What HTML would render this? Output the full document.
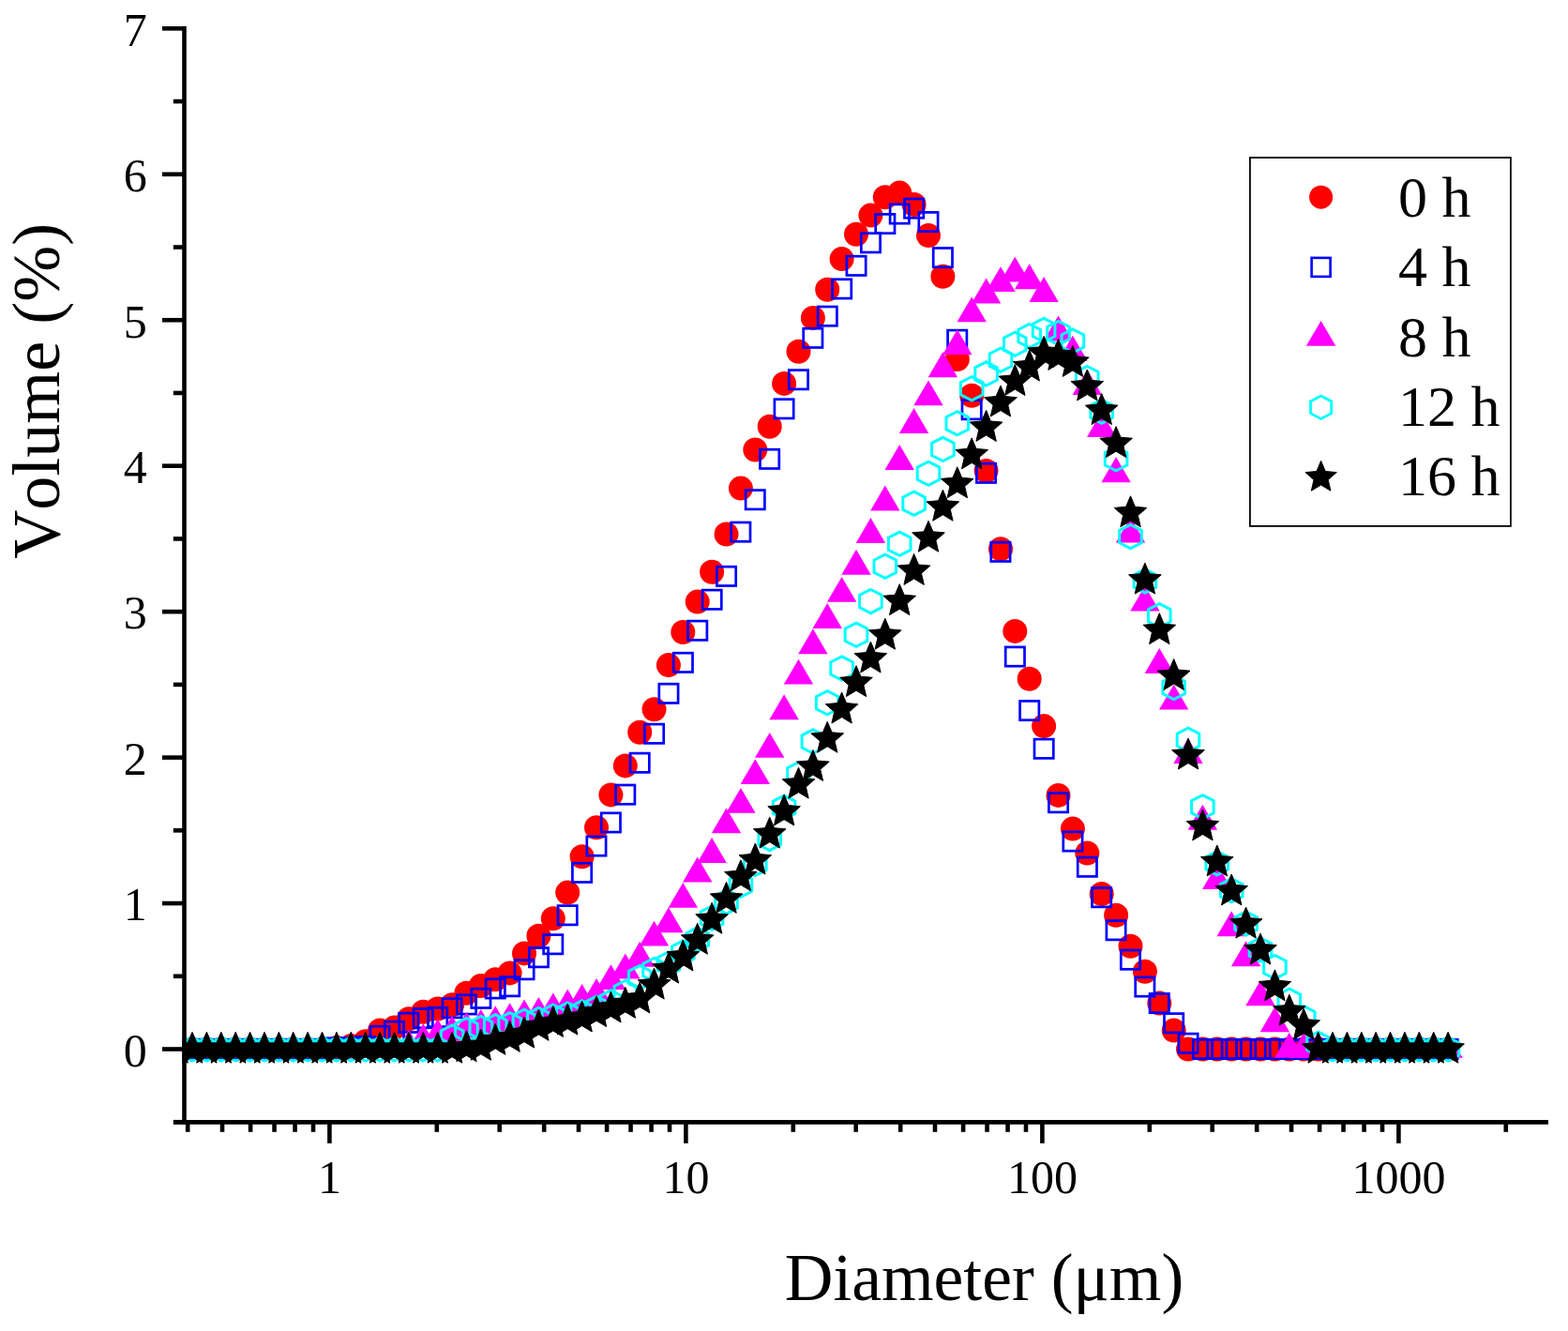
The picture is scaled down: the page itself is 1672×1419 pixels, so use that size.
<!DOCTYPE html>
<html><head><meta charset="utf-8"><style>
html,body{margin:0;padding:0;background:#fff;}
svg{display:block;}
text{font-kerning:none;font-feature-settings:"kern" 0;}
.tl{font-family:"Liberation Serif",serif;font-size:50px;fill:#000;}
.at{font-family:"Liberation Serif",serif;font-size:71.5px;fill:#000;}
.at2{font-family:"Liberation Serif",serif;font-size:72px;fill:#000;}
.lg{font-family:"Liberation Serif",serif;font-size:62px;fill:#000;}
</style></head><body>
<svg width="1672" height="1419" viewBox="0 0 1672 1419">
<rect width="1672" height="1419" fill="#fff"/>
<defs><clipPath id="pc"><rect x="194.5" y="0" width="1460" height="1194"/></clipPath></defs>
<g clip-path="url(#pc)">
<g fill="#ff0000">
<circle cx="189.6" cy="1118.5" r="13"/>
<circle cx="205" cy="1118.5" r="13"/>
<circle cx="220.4" cy="1118.5" r="13"/>
<circle cx="235.8" cy="1118.5" r="13"/>
<circle cx="251.2" cy="1118.5" r="13"/>
<circle cx="266.6" cy="1118.5" r="13"/>
<circle cx="282" cy="1118.5" r="13"/>
<circle cx="297.4" cy="1118.5" r="13"/>
<circle cx="312.7" cy="1118.5" r="13"/>
<circle cx="328.1" cy="1118.5" r="13"/>
<circle cx="343.5" cy="1118.5" r="13"/>
<circle cx="358.9" cy="1117.1" r="13"/>
<circle cx="374.3" cy="1114.9" r="13"/>
<circle cx="389.7" cy="1110.3" r="13"/>
<circle cx="405.1" cy="1098.4" r="13"/>
<circle cx="420.5" cy="1095.6" r="13"/>
<circle cx="435.9" cy="1086.2" r="13"/>
<circle cx="451.3" cy="1078.7" r="13"/>
<circle cx="466.7" cy="1075.5" r="13"/>
<circle cx="482.1" cy="1071.2" r="13"/>
<circle cx="497.4" cy="1058.8" r="13"/>
<circle cx="512.8" cy="1051" r="13"/>
<circle cx="528.2" cy="1044.3" r="13"/>
<circle cx="543.6" cy="1037.4" r="13"/>
<circle cx="559" cy="1016.4" r="13"/>
<circle cx="574.4" cy="997.8" r="13"/>
<circle cx="589.8" cy="979.2" r="13"/>
<circle cx="605.2" cy="951.6" r="13"/>
<circle cx="620.6" cy="913.3" r="13"/>
<circle cx="636" cy="882.3" r="13"/>
<circle cx="651.4" cy="847.4" r="13"/>
<circle cx="666.8" cy="816.4" r="13"/>
<circle cx="682.2" cy="780.8" r="13"/>
<circle cx="697.5" cy="756.3" r="13"/>
<circle cx="712.9" cy="709.1" r="13"/>
<circle cx="728.3" cy="674" r="13"/>
<circle cx="743.7" cy="641.6" r="13"/>
<circle cx="759.1" cy="609.8" r="13"/>
<circle cx="774.5" cy="569.5" r="13"/>
<circle cx="789.9" cy="520.6" r="13"/>
<circle cx="805.3" cy="479.5" r="13"/>
<circle cx="820.7" cy="454.7" r="13"/>
<circle cx="836.1" cy="408.9" r="13"/>
<circle cx="851.5" cy="374.7" r="13"/>
<circle cx="866.9" cy="338.9" r="13"/>
<circle cx="882.2" cy="308.7" r="13"/>
<circle cx="897.6" cy="276.1" r="13"/>
<circle cx="913" cy="249.8" r="13"/>
<circle cx="928.4" cy="229.6" r="13"/>
<circle cx="943.8" cy="210.2" r="13"/>
<circle cx="959.2" cy="205.6" r="13"/>
<circle cx="974.6" cy="218" r="13"/>
<circle cx="990" cy="251" r="13"/>
<circle cx="1005.4" cy="294.7" r="13"/>
<circle cx="1020.8" cy="383" r="13"/>
<circle cx="1036.2" cy="421.7" r="13"/>
<circle cx="1051.6" cy="502" r="13"/>
<circle cx="1067" cy="585.3" r="13"/>
<circle cx="1082.3" cy="672.9" r="13"/>
<circle cx="1097.7" cy="723.7" r="13"/>
<circle cx="1113.1" cy="774.1" r="13"/>
<circle cx="1128.5" cy="847.9" r="13"/>
<circle cx="1143.9" cy="883.6" r="13"/>
<circle cx="1159.3" cy="909.5" r="13"/>
<circle cx="1174.7" cy="953" r="13"/>
<circle cx="1190.1" cy="975.8" r="13"/>
<circle cx="1205.5" cy="1008.8" r="13"/>
<circle cx="1220.9" cy="1035.7" r="13"/>
<circle cx="1236.3" cy="1069.6" r="13"/>
<circle cx="1251.7" cy="1098.6" r="13"/>
<circle cx="1267" cy="1118.5" r="13"/>
<circle cx="1282.4" cy="1118.5" r="13"/>
<circle cx="1297.8" cy="1118.5" r="13"/>
<circle cx="1313.2" cy="1118.5" r="13"/>
<circle cx="1328.6" cy="1118.5" r="13"/>
<circle cx="1344" cy="1118.5" r="13"/>
<circle cx="1359.4" cy="1118.5" r="13"/>
<circle cx="1374.8" cy="1118.5" r="13"/>
<circle cx="1390.2" cy="1118.5" r="13"/>
<circle cx="1405.6" cy="1118.5" r="13"/>
<circle cx="1421" cy="1118.5" r="13"/>
<circle cx="1436.4" cy="1118.5" r="13"/>
<circle cx="1451.8" cy="1118.5" r="13"/>
<circle cx="1467.1" cy="1118.5" r="13"/>
<circle cx="1482.5" cy="1118.5" r="13"/>
<circle cx="1497.9" cy="1118.5" r="13"/>
<circle cx="1513.3" cy="1118.5" r="13"/>
<circle cx="1528.7" cy="1118.5" r="13"/>
<circle cx="1544.1" cy="1118.5" r="13"/>
</g>
<g fill="none" stroke="#0000ff" stroke-width="2.7">
<rect x="179.5" y="1108.3" width="20.3" height="20.3"/>
<rect x="194.8" y="1108.3" width="20.3" height="20.3"/>
<rect x="210.2" y="1108.3" width="20.3" height="20.3"/>
<rect x="225.6" y="1108.3" width="20.3" height="20.3"/>
<rect x="241" y="1108.3" width="20.3" height="20.3"/>
<rect x="256.4" y="1108.3" width="20.3" height="20.3"/>
<rect x="271.8" y="1108.3" width="20.3" height="20.3"/>
<rect x="287.2" y="1108.3" width="20.3" height="20.3"/>
<rect x="302.6" y="1108.3" width="20.3" height="20.3"/>
<rect x="318" y="1108.3" width="20.3" height="20.3"/>
<rect x="333.4" y="1108.3" width="20.3" height="20.3"/>
<rect x="348.8" y="1106.8" width="20.3" height="20.3"/>
<rect x="364.2" y="1106.8" width="20.3" height="20.3"/>
<rect x="379.6" y="1105.4" width="20.3" height="20.3"/>
<rect x="394.9" y="1094.2" width="20.3" height="20.3"/>
<rect x="410.3" y="1089.2" width="20.3" height="20.3"/>
<rect x="425.7" y="1080.2" width="20.3" height="20.3"/>
<rect x="441.1" y="1075.5" width="20.3" height="20.3"/>
<rect x="456.5" y="1074.3" width="20.3" height="20.3"/>
<rect x="471.9" y="1064.6" width="20.3" height="20.3"/>
<rect x="487.3" y="1060.8" width="20.3" height="20.3"/>
<rect x="502.7" y="1054.2" width="20.3" height="20.3"/>
<rect x="518.1" y="1043.8" width="20.3" height="20.3"/>
<rect x="533.5" y="1041.6" width="20.3" height="20.3"/>
<rect x="548.9" y="1023.6" width="20.3" height="20.3"/>
<rect x="564.3" y="1010.6" width="20.3" height="20.3"/>
<rect x="579.6" y="996.6" width="20.3" height="20.3"/>
<rect x="595" y="965.6" width="20.3" height="20.3"/>
<rect x="610.4" y="920.2" width="20.3" height="20.3"/>
<rect x="625.8" y="891.9" width="20.3" height="20.3"/>
<rect x="641.2" y="866.8" width="20.3" height="20.3"/>
<rect x="656.6" y="837" width="20.3" height="20.3"/>
<rect x="672" y="803.1" width="20.3" height="20.3"/>
<rect x="687.4" y="772.1" width="20.3" height="20.3"/>
<rect x="702.8" y="729.2" width="20.3" height="20.3"/>
<rect x="718.2" y="696.2" width="20.3" height="20.3"/>
<rect x="733.6" y="662.1" width="20.3" height="20.3"/>
<rect x="749" y="629.1" width="20.3" height="20.3"/>
<rect x="764.4" y="604.2" width="20.3" height="20.3"/>
<rect x="779.7" y="557" width="20.3" height="20.3"/>
<rect x="795.1" y="522.6" width="20.3" height="20.3"/>
<rect x="810.5" y="479.2" width="20.3" height="20.3"/>
<rect x="825.9" y="425.7" width="20.3" height="20.3"/>
<rect x="841.3" y="394.6" width="20.3" height="20.3"/>
<rect x="856.7" y="350.2" width="20.3" height="20.3"/>
<rect x="872.1" y="327" width="20.3" height="20.3"/>
<rect x="887.5" y="297.8" width="20.3" height="20.3"/>
<rect x="902.9" y="273.2" width="20.3" height="20.3"/>
<rect x="918.3" y="248.7" width="20.3" height="20.3"/>
<rect x="933.7" y="228.4" width="20.3" height="20.3"/>
<rect x="949.1" y="217.9" width="20.3" height="20.3"/>
<rect x="964.5" y="212" width="20.3" height="20.3"/>
<rect x="979.8" y="226.4" width="20.3" height="20.3"/>
<rect x="995.2" y="264.5" width="20.3" height="20.3"/>
<rect x="1010.6" y="352.1" width="20.3" height="20.3"/>
<rect x="1026" y="426.6" width="20.3" height="20.3"/>
<rect x="1041.4" y="494.2" width="20.3" height="20.3"/>
<rect x="1056.8" y="578.2" width="20.3" height="20.3"/>
<rect x="1072.2" y="689.9" width="20.3" height="20.3"/>
<rect x="1087.6" y="747.4" width="20.3" height="20.3"/>
<rect x="1103" y="788.1" width="20.3" height="20.3"/>
<rect x="1118.4" y="845.6" width="20.3" height="20.3"/>
<rect x="1133.8" y="886.9" width="20.3" height="20.3"/>
<rect x="1149.2" y="914.1" width="20.3" height="20.3"/>
<rect x="1164.5" y="946.6" width="20.3" height="20.3"/>
<rect x="1179.9" y="981.6" width="20.3" height="20.3"/>
<rect x="1195.3" y="1013" width="20.3" height="20.3"/>
<rect x="1210.7" y="1041.9" width="20.3" height="20.3"/>
<rect x="1226.1" y="1059.4" width="20.3" height="20.3"/>
<rect x="1241.5" y="1080.6" width="20.3" height="20.3"/>
<rect x="1256.9" y="1102.1" width="20.3" height="20.3"/>
<rect x="1272.3" y="1108.3" width="20.3" height="20.3"/>
<rect x="1287.7" y="1108.3" width="20.3" height="20.3"/>
<rect x="1303.1" y="1108.3" width="20.3" height="20.3"/>
<rect x="1318.5" y="1108.3" width="20.3" height="20.3"/>
<rect x="1333.9" y="1108.3" width="20.3" height="20.3"/>
<rect x="1349.2" y="1108.3" width="20.3" height="20.3"/>
<rect x="1364.6" y="1108.3" width="20.3" height="20.3"/>
<rect x="1380" y="1108.3" width="20.3" height="20.3"/>
<rect x="1395.4" y="1108.3" width="20.3" height="20.3"/>
<rect x="1410.8" y="1108.3" width="20.3" height="20.3"/>
<rect x="1426.2" y="1108.3" width="20.3" height="20.3"/>
<rect x="1441.6" y="1108.3" width="20.3" height="20.3"/>
<rect x="1457" y="1108.3" width="20.3" height="20.3"/>
<rect x="1472.4" y="1108.3" width="20.3" height="20.3"/>
<rect x="1487.8" y="1108.3" width="20.3" height="20.3"/>
<rect x="1503.2" y="1108.3" width="20.3" height="20.3"/>
<rect x="1518.6" y="1108.3" width="20.3" height="20.3"/>
<rect x="1534" y="1108.3" width="20.3" height="20.3"/>
</g>
<g fill="#ff00ff">
<polygon points="189.6,1100.8 205.3,1127.7 173.9,1127.7"/>
<polygon points="205,1100.8 220.7,1127.7 189.3,1127.7"/>
<polygon points="220.4,1100.8 236.1,1127.7 204.7,1127.7"/>
<polygon points="235.8,1100.8 251.5,1127.7 220.1,1127.7"/>
<polygon points="251.2,1100.8 266.9,1127.7 235.5,1127.7"/>
<polygon points="266.6,1100.8 282.3,1127.7 250.9,1127.7"/>
<polygon points="282,1100.8 297.7,1127.7 266.3,1127.7"/>
<polygon points="297.4,1100.8 313.1,1127.7 281.7,1127.7"/>
<polygon points="312.7,1100.8 328.4,1127.7 297,1127.7"/>
<polygon points="328.1,1100.8 343.8,1127.7 312.4,1127.7"/>
<polygon points="343.5,1100.8 359.2,1127.7 327.8,1127.7"/>
<polygon points="358.9,1100.8 374.6,1127.7 343.2,1127.7"/>
<polygon points="374.3,1100.8 390,1127.7 358.6,1127.7"/>
<polygon points="389.7,1100.8 405.4,1127.7 374,1127.7"/>
<polygon points="405.1,1100.8 420.8,1127.7 389.4,1127.7"/>
<polygon points="420.5,1100.8 436.2,1127.7 404.8,1127.7"/>
<polygon points="435.9,1097.8 451.6,1124.7 420.2,1124.7"/>
<polygon points="451.3,1091.3 467,1118.2 435.6,1118.2"/>
<polygon points="466.7,1086.3 482.4,1113.2 451,1113.2"/>
<polygon points="482.1,1082.8 497.8,1109.7 466.4,1109.7"/>
<polygon points="497.4,1079 513.1,1105.9 481.7,1105.9"/>
<polygon points="512.8,1076.1 528.5,1103 497.1,1103"/>
<polygon points="528.2,1072.3 543.9,1099.2 512.5,1099.2"/>
<polygon points="543.6,1069.2 559.3,1096.1 527.9,1096.1"/>
<polygon points="559,1065.4 574.7,1092.3 543.3,1092.3"/>
<polygon points="574.4,1063 590.1,1089.9 558.7,1089.9"/>
<polygon points="589.8,1058.4 605.5,1085.3 574.1,1085.3"/>
<polygon points="605.2,1054.5 620.9,1081.4 589.5,1081.4"/>
<polygon points="620.6,1049.1 636.3,1076 604.9,1076"/>
<polygon points="636,1042.9 651.7,1069.8 620.3,1069.8"/>
<polygon points="651.4,1028.2 667.1,1055.1 635.7,1055.1"/>
<polygon points="666.8,1016.5 682.5,1043.4 651.1,1043.4"/>
<polygon points="682.2,1003.8 697.9,1030.7 666.5,1030.7"/>
<polygon points="697.5,981.7 713.2,1008.6 681.8,1008.6"/>
<polygon points="712.9,967.3 728.6,994.2 697.2,994.2"/>
<polygon points="728.3,940.9 744,967.8 712.6,967.8"/>
<polygon points="743.7,913.5 759.4,940.4 728,940.4"/>
<polygon points="759.1,893.1 774.8,920 743.4,920"/>
<polygon points="774.5,861.4 790.2,888.3 758.8,888.3"/>
<polygon points="789.9,839.9 805.6,866.8 774.2,866.8"/>
<polygon points="805.3,809.2 821,836.1 789.6,836.1"/>
<polygon points="820.7,780.9 836.4,807.8 805,807.8"/>
<polygon points="836.1,740.3 851.8,767.2 820.4,767.2"/>
<polygon points="851.5,702.7 867.2,729.6 835.8,729.6"/>
<polygon points="866.9,670.3 882.6,697.2 851.2,697.2"/>
<polygon points="882.2,643 897.9,669.9 866.5,669.9"/>
<polygon points="897.6,614.9 913.3,641.8 881.9,641.8"/>
<polygon points="913,585.8 928.7,612.7 897.3,612.7"/>
<polygon points="928.4,552 944.1,578.9 912.7,578.9"/>
<polygon points="943.8,517.5 959.5,544.4 928.1,544.4"/>
<polygon points="959.2,474.1 974.9,501 943.5,501"/>
<polygon points="974.6,435.1 990.3,462 958.9,462"/>
<polygon points="990,405.4 1005.7,432.3 974.3,432.3"/>
<polygon points="1005.4,375.3 1021.1,402.2 989.7,402.2"/>
<polygon points="1020.8,351.3 1036.5,378.2 1005.1,378.2"/>
<polygon points="1036.2,316.4 1051.9,343.3 1020.5,343.3"/>
<polygon points="1051.6,296.6 1067.3,323.5 1035.9,323.5"/>
<polygon points="1067,284.2 1082.7,311.1 1051.3,311.1"/>
<polygon points="1082.3,273.7 1098,300.6 1066.6,300.6"/>
<polygon points="1097.7,281.3 1113.4,308.2 1082,308.2"/>
<polygon points="1113.1,295.1 1128.8,322 1097.4,322"/>
<polygon points="1128.5,336.5 1144.2,363.4 1112.8,363.4"/>
<polygon points="1143.9,357.8 1159.6,384.7 1128.2,384.7"/>
<polygon points="1159.3,394.1 1175,421 1143.6,421"/>
<polygon points="1174.7,439 1190.4,465.9 1159,465.9"/>
<polygon points="1190.1,487.3 1205.8,514.2 1174.4,514.2"/>
<polygon points="1205.5,551.5 1221.2,578.4 1189.8,578.4"/>
<polygon points="1220.9,624.7 1236.6,651.6 1205.2,651.6"/>
<polygon points="1236.3,691 1252,717.9 1220.6,717.9"/>
<polygon points="1251.7,729.7 1267.4,756.6 1236,756.6"/>
<polygon points="1267,787 1282.7,813.9 1251.3,813.9"/>
<polygon points="1282.4,857.8 1298.1,884.7 1266.7,884.7"/>
<polygon points="1297.8,921.1 1313.5,948 1282.1,948"/>
<polygon points="1313.2,971.3 1328.9,998.2 1297.5,998.2"/>
<polygon points="1328.6,1003.3 1344.3,1030.2 1312.9,1030.2"/>
<polygon points="1344,1045.3 1359.7,1072.2 1328.3,1072.2"/>
<polygon points="1359.4,1073.3 1375.1,1100.2 1343.7,1100.2"/>
<polygon points="1374.8,1100.8 1390.5,1127.7 1359.1,1127.7"/>
<polygon points="1390.2,1100.8 1405.9,1127.7 1374.5,1127.7"/>
<polygon points="1405.6,1100.8 1421.3,1127.7 1389.9,1127.7"/>
<polygon points="1421,1100.8 1436.7,1127.7 1405.3,1127.7"/>
<polygon points="1436.4,1100.8 1452.1,1127.7 1420.7,1127.7"/>
<polygon points="1451.8,1100.8 1467.5,1127.7 1436.1,1127.7"/>
<polygon points="1467.1,1100.8 1482.8,1127.7 1451.4,1127.7"/>
<polygon points="1482.5,1100.8 1498.2,1127.7 1466.8,1127.7"/>
<polygon points="1497.9,1100.8 1513.6,1127.7 1482.2,1127.7"/>
<polygon points="1513.3,1100.8 1529,1127.7 1497.6,1127.7"/>
<polygon points="1528.7,1100.8 1544.4,1127.7 1513,1127.7"/>
<polygon points="1544.1,1100.8 1559.8,1127.7 1528.4,1127.7"/>
</g>
<g fill="none" stroke="#00ffff" stroke-width="3">
<polygon points="189.6,1105.9 201.4,1111.9 201.4,1125.1 189.6,1131.1 177.8,1125.1 177.8,1111.9"/>
<polygon points="205,1105.9 216.8,1111.9 216.8,1125.1 205,1131.1 193.2,1125.1 193.2,1111.9"/>
<polygon points="220.4,1105.9 232.2,1111.9 232.2,1125.1 220.4,1131.1 208.6,1125.1 208.6,1111.9"/>
<polygon points="235.8,1105.9 247.6,1111.9 247.6,1125.1 235.8,1131.1 224,1125.1 224,1111.9"/>
<polygon points="251.2,1105.9 263,1111.9 263,1125.1 251.2,1131.1 239.4,1125.1 239.4,1111.9"/>
<polygon points="266.6,1105.9 278.4,1111.9 278.4,1125.1 266.6,1131.1 254.8,1125.1 254.8,1111.9"/>
<polygon points="282,1105.9 293.8,1111.9 293.8,1125.1 282,1131.1 270.2,1125.1 270.2,1111.9"/>
<polygon points="297.4,1105.9 309.2,1111.9 309.2,1125.1 297.4,1131.1 285.6,1125.1 285.6,1111.9"/>
<polygon points="312.7,1105.9 324.5,1111.9 324.5,1125.1 312.7,1131.1 300.9,1125.1 300.9,1111.9"/>
<polygon points="328.1,1105.9 339.9,1111.9 339.9,1125.1 328.1,1131.1 316.3,1125.1 316.3,1111.9"/>
<polygon points="343.5,1105.9 355.3,1111.9 355.3,1125.1 343.5,1131.1 331.7,1125.1 331.7,1111.9"/>
<polygon points="358.9,1105.9 370.7,1111.9 370.7,1125.1 358.9,1131.1 347.1,1125.1 347.1,1111.9"/>
<polygon points="374.3,1105.9 386.1,1111.9 386.1,1125.1 374.3,1131.1 362.5,1125.1 362.5,1111.9"/>
<polygon points="389.7,1105.9 401.5,1111.9 401.5,1125.1 389.7,1131.1 377.9,1125.1 377.9,1111.9"/>
<polygon points="405.1,1105.9 416.9,1111.9 416.9,1125.1 405.1,1131.1 393.3,1125.1 393.3,1111.9"/>
<polygon points="420.5,1105.9 432.3,1111.9 432.3,1125.1 420.5,1131.1 408.7,1125.1 408.7,1111.9"/>
<polygon points="435.9,1105.9 447.7,1111.9 447.7,1125.1 435.9,1131.1 424.1,1125.1 424.1,1111.9"/>
<polygon points="451.3,1105.9 463.1,1111.9 463.1,1125.1 451.3,1131.1 439.5,1125.1 439.5,1111.9"/>
<polygon points="466.7,1105.9 478.5,1111.9 478.5,1125.1 466.7,1131.1 454.9,1125.1 454.9,1111.9"/>
<polygon points="482.1,1092.9 493.9,1098.9 493.9,1112.1 482.1,1118.1 470.3,1112.1 470.3,1098.9"/>
<polygon points="497.4,1085.4 509.2,1091.4 509.2,1104.6 497.4,1110.6 485.6,1104.6 485.6,1091.4"/>
<polygon points="512.8,1083.4 524.6,1089.4 524.6,1102.6 512.8,1108.6 501,1102.6 501,1089.4"/>
<polygon points="528.2,1081.7 540,1087.7 540,1100.9 528.2,1106.9 516.4,1100.9 516.4,1087.7"/>
<polygon points="543.6,1079.7 555.4,1085.7 555.4,1098.9 543.6,1104.9 531.8,1098.9 531.8,1085.7"/>
<polygon points="559,1076.2 570.8,1082.2 570.8,1095.4 559,1101.4 547.2,1095.4 547.2,1082.2"/>
<polygon points="574.4,1074.4 586.2,1080.4 586.2,1093.6 574.4,1099.6 562.6,1093.6 562.6,1080.4"/>
<polygon points="589.8,1071 601.6,1077 601.6,1090.2 589.8,1096.2 578,1090.2 578,1077"/>
<polygon points="605.2,1068.9 617,1074.9 617,1088.1 605.2,1094.1 593.4,1088.1 593.4,1074.9"/>
<polygon points="620.6,1066.8 632.4,1072.8 632.4,1086 620.6,1092 608.8,1086 608.8,1072.8"/>
<polygon points="636,1062.1 647.8,1068.1 647.8,1081.3 636,1087.3 624.2,1081.3 624.2,1068.1"/>
<polygon points="651.4,1055.8 663.2,1061.8 663.2,1075 651.4,1081 639.6,1075 639.6,1061.8"/>
<polygon points="666.8,1045.4 678.6,1051.4 678.6,1064.6 666.8,1070.6 655,1064.6 655,1051.4"/>
<polygon points="682.2,1029.4 694,1035.4 694,1048.6 682.2,1054.6 670.4,1048.6 670.4,1035.4"/>
<polygon points="697.5,1021.4 709.3,1027.4 709.3,1040.6 697.5,1046.6 685.7,1040.6 685.7,1027.4"/>
<polygon points="712.9,1015 724.7,1021 724.7,1034.2 712.9,1040.2 701.1,1034.2 701.1,1021"/>
<polygon points="728.3,1002.9 740.1,1008.9 740.1,1022.1 728.3,1028.1 716.5,1022.1 716.5,1008.9"/>
<polygon points="743.7,988.8 755.5,994.8 755.5,1008 743.7,1014 731.9,1008 731.9,994.8"/>
<polygon points="759.1,966 770.9,972 770.9,985.2 759.1,991.2 747.3,985.2 747.3,972"/>
<polygon points="774.5,949 786.3,955 786.3,968.2 774.5,974.2 762.7,968.2 762.7,955"/>
<polygon points="789.9,931.2 801.7,937.2 801.7,950.4 789.9,956.4 778.1,950.4 778.1,937.2"/>
<polygon points="805.3,908.4 817.1,914.4 817.1,927.6 805.3,933.6 793.5,927.6 793.5,914.4"/>
<polygon points="820.7,881.5 832.5,887.5 832.5,900.7 820.7,906.7 808.9,900.7 808.9,887.5"/>
<polygon points="836.1,848.1 847.9,854.1 847.9,867.3 836.1,873.3 824.3,867.3 824.3,854.1"/>
<polygon points="851.5,812.7 863.3,818.7 863.3,831.9 851.5,837.9 839.7,831.9 839.7,818.7"/>
<polygon points="866.9,777.8 878.7,783.8 878.7,797 866.9,803 855.1,797 855.1,783.8"/>
<polygon points="882.2,736.6 894,742.6 894,755.8 882.2,761.8 870.4,755.8 870.4,742.6"/>
<polygon points="897.6,699.9 909.4,705.9 909.4,719.1 897.6,725.1 885.8,719.1 885.8,705.9"/>
<polygon points="913,664.2 924.8,670.2 924.8,683.4 913,689.4 901.2,683.4 901.2,670.2"/>
<polygon points="928.4,628.5 940.2,634.5 940.2,647.7 928.4,653.7 916.6,647.7 916.6,634.5"/>
<polygon points="943.8,591.2 955.6,597.2 955.6,610.4 943.8,616.4 932,610.4 932,597.2"/>
<polygon points="959.2,567.2 971,573.2 971,586.4 959.2,592.4 947.4,586.4 947.4,573.2"/>
<polygon points="974.6,524.1 986.4,530.1 986.4,543.3 974.6,549.3 962.8,543.3 962.8,530.1"/>
<polygon points="990,492.1 1001.8,498.1 1001.8,511.3 990,517.3 978.2,511.3 978.2,498.1"/>
<polygon points="1005.4,466.3 1017.2,472.3 1017.2,485.5 1005.4,491.5 993.6,485.5 993.6,472.3"/>
<polygon points="1020.8,438.7 1032.6,444.7 1032.6,457.9 1020.8,463.9 1009,457.9 1009,444.7"/>
<polygon points="1036.2,401.7 1048,407.7 1048,420.9 1036.2,426.9 1024.4,420.9 1024.4,407.7"/>
<polygon points="1051.6,385.8 1063.4,391.8 1063.4,405 1051.6,411 1039.8,405 1039.8,391.8"/>
<polygon points="1067,371.1 1078.8,377.1 1078.8,390.3 1067,396.3 1055.2,390.3 1055.2,377.1"/>
<polygon points="1082.3,354.1 1094.1,360.1 1094.1,373.3 1082.3,379.3 1070.5,373.3 1070.5,360.1"/>
<polygon points="1097.7,345.5 1109.5,351.5 1109.5,364.7 1097.7,370.7 1085.9,364.7 1085.9,351.5"/>
<polygon points="1113.1,339.3 1124.9,345.3 1124.9,358.5 1113.1,364.5 1101.3,358.5 1101.3,345.3"/>
<polygon points="1128.5,342.4 1140.3,348.4 1140.3,361.6 1128.5,367.6 1116.7,361.6 1116.7,348.4"/>
<polygon points="1143.9,351 1155.7,357 1155.7,370.2 1143.9,376.2 1132.1,370.2 1132.1,357"/>
<polygon points="1159.3,390.5 1171.1,396.5 1171.1,409.7 1159.3,415.7 1147.5,409.7 1147.5,396.5"/>
<polygon points="1174.7,426.2 1186.5,432.2 1186.5,445.4 1174.7,451.4 1162.9,445.4 1162.9,432.2"/>
<polygon points="1190.1,476.7 1201.9,482.7 1201.9,495.9 1190.1,501.9 1178.3,495.9 1178.3,482.7"/>
<polygon points="1205.5,559.5 1217.3,565.5 1217.3,578.7 1205.5,584.7 1193.7,578.7 1193.7,565.5"/>
<polygon points="1220.9,606.8 1232.7,612.8 1232.7,626 1220.9,632 1209.1,626 1209.1,612.8"/>
<polygon points="1236.3,643.7 1248.1,649.7 1248.1,662.9 1236.3,668.9 1224.5,662.9 1224.5,649.7"/>
<polygon points="1251.7,720.4 1263.5,726.4 1263.5,739.6 1251.7,745.6 1239.9,739.6 1239.9,726.4"/>
<polygon points="1267,776.1 1278.8,782.1 1278.8,795.3 1267,801.3 1255.2,795.3 1255.2,782.1"/>
<polygon points="1282.4,847.7 1294.2,853.7 1294.2,866.9 1282.4,872.9 1270.6,866.9 1270.6,853.7"/>
<polygon points="1297.8,907.6 1309.6,913.6 1309.6,926.8 1297.8,932.8 1286,926.8 1286,913.6"/>
<polygon points="1313.2,936.7 1325,942.7 1325,955.9 1313.2,961.9 1301.4,955.9 1301.4,942.7"/>
<polygon points="1328.6,971.9 1340.4,977.9 1340.4,991.1 1328.6,997.1 1316.8,991.1 1316.8,977.9"/>
<polygon points="1344,999.8 1355.8,1005.8 1355.8,1019 1344,1025 1332.2,1019 1332.2,1005.8"/>
<polygon points="1359.4,1018.4 1371.2,1024.4 1371.2,1037.6 1359.4,1043.6 1347.6,1037.6 1347.6,1024.4"/>
<polygon points="1374.8,1054.1 1386.6,1060.1 1386.6,1073.3 1374.8,1079.3 1363,1073.3 1363,1060.1"/>
<polygon points="1390.2,1072.7 1402,1078.7 1402,1091.9 1390.2,1097.9 1378.4,1091.9 1378.4,1078.7"/>
<polygon points="1405.6,1100.1 1417.4,1106.1 1417.4,1119.3 1405.6,1125.3 1393.8,1119.3 1393.8,1106.1"/>
<polygon points="1421,1105.9 1432.8,1111.9 1432.8,1125.1 1421,1131.1 1409.2,1125.1 1409.2,1111.9"/>
<polygon points="1436.4,1105.9 1448.2,1111.9 1448.2,1125.1 1436.4,1131.1 1424.6,1125.1 1424.6,1111.9"/>
<polygon points="1451.8,1105.9 1463.6,1111.9 1463.6,1125.1 1451.8,1131.1 1440,1125.1 1440,1111.9"/>
<polygon points="1467.1,1105.9 1478.9,1111.9 1478.9,1125.1 1467.1,1131.1 1455.3,1125.1 1455.3,1111.9"/>
<polygon points="1482.5,1105.9 1494.3,1111.9 1494.3,1125.1 1482.5,1131.1 1470.7,1125.1 1470.7,1111.9"/>
<polygon points="1497.9,1105.9 1509.7,1111.9 1509.7,1125.1 1497.9,1131.1 1486.1,1125.1 1486.1,1111.9"/>
<polygon points="1513.3,1105.9 1525.1,1111.9 1525.1,1125.1 1513.3,1131.1 1501.5,1125.1 1501.5,1111.9"/>
<polygon points="1528.7,1105.9 1540.5,1111.9 1540.5,1125.1 1528.7,1131.1 1516.9,1125.1 1516.9,1111.9"/>
<polygon points="1544.1,1105.9 1555.9,1111.9 1555.9,1125.1 1544.1,1131.1 1532.3,1125.1 1532.3,1111.9"/>
</g>
<g fill="#000" stroke="#000" stroke-width="1.0" stroke-linejoin="round">
<polygon points="189.6,1100.3 194.5,1111.8 206.9,1112.9 197.5,1121.1 200.3,1133.2 189.6,1126.8 178.9,1133.2 181.7,1121.1 172.3,1112.9 184.7,1111.8"/>
<polygon points="205,1100.3 209.9,1111.8 222.3,1112.9 212.9,1121.1 215.7,1133.2 205,1126.8 194.3,1133.2 197.1,1121.1 187.7,1112.9 200.1,1111.8"/>
<polygon points="220.4,1100.3 225.3,1111.8 237.7,1112.9 228.3,1121.1 231.1,1133.2 220.4,1126.8 209.7,1133.2 212.5,1121.1 203.1,1112.9 215.5,1111.8"/>
<polygon points="235.8,1100.3 240.7,1111.8 253.1,1112.9 243.7,1121.1 246.5,1133.2 235.8,1126.8 225.1,1133.2 227.9,1121.1 218.5,1112.9 230.9,1111.8"/>
<polygon points="251.2,1100.3 256.1,1111.8 268.5,1112.9 259.1,1121.1 261.9,1133.2 251.2,1126.8 240.5,1133.2 243.3,1121.1 233.9,1112.9 246.3,1111.8"/>
<polygon points="266.6,1100.3 271.4,1111.8 283.9,1112.9 274.5,1121.1 277.3,1133.2 266.6,1126.8 255.9,1133.2 258.7,1121.1 249.3,1112.9 261.7,1111.8"/>
<polygon points="282,1100.3 286.8,1111.8 299.3,1112.9 289.9,1121.1 292.7,1133.2 282,1126.8 271.3,1133.2 274.1,1121.1 264.7,1112.9 277.1,1111.8"/>
<polygon points="297.4,1100.3 302.2,1111.8 314.7,1112.9 305.2,1121.1 308,1133.2 297.4,1126.8 286.7,1133.2 289.5,1121.1 280,1112.9 292.5,1111.8"/>
<polygon points="312.7,1100.3 317.6,1111.8 330.1,1112.9 320.6,1121.1 323.4,1133.2 312.7,1126.8 302,1133.2 304.9,1121.1 295.4,1112.9 307.9,1111.8"/>
<polygon points="328.1,1100.3 333,1111.8 345.4,1112.9 336,1121.1 338.8,1133.2 328.1,1126.8 317.4,1133.2 320.2,1121.1 310.8,1112.9 323.3,1111.8"/>
<polygon points="343.5,1100.3 348.4,1111.8 360.8,1112.9 351.4,1121.1 354.2,1133.2 343.5,1126.8 332.8,1133.2 335.6,1121.1 326.2,1112.9 338.6,1111.8"/>
<polygon points="358.9,1100.3 363.8,1111.8 376.2,1112.9 366.8,1121.1 369.6,1133.2 358.9,1126.8 348.2,1133.2 351,1121.1 341.6,1112.9 354,1111.8"/>
<polygon points="374.3,1100.3 379.2,1111.8 391.6,1112.9 382.2,1121.1 385,1133.2 374.3,1126.8 363.6,1133.2 366.4,1121.1 357,1112.9 369.4,1111.8"/>
<polygon points="389.7,1100.3 394.6,1111.8 407,1112.9 397.6,1121.1 400.4,1133.2 389.7,1126.8 379,1133.2 381.8,1121.1 372.4,1112.9 384.8,1111.8"/>
<polygon points="405.1,1100.3 410,1111.8 422.4,1112.9 413,1121.1 415.8,1133.2 405.1,1126.8 394.4,1133.2 397.2,1121.1 387.8,1112.9 400.2,1111.8"/>
<polygon points="420.5,1100.3 425.4,1111.8 437.8,1112.9 428.4,1121.1 431.2,1133.2 420.5,1126.8 409.8,1133.2 412.6,1121.1 403.2,1112.9 415.6,1111.8"/>
<polygon points="435.9,1100.3 440.8,1111.8 453.2,1112.9 443.8,1121.1 446.6,1133.2 435.9,1126.8 425.2,1133.2 428,1121.1 418.6,1112.9 431,1111.8"/>
<polygon points="451.3,1100.3 456.2,1111.8 468.6,1112.9 459.2,1121.1 462,1133.2 451.3,1126.8 440.6,1133.2 443.4,1121.1 434,1112.9 446.4,1111.8"/>
<polygon points="466.7,1100.3 471.5,1111.8 484,1112.9 474.6,1121.1 477.4,1133.2 466.7,1126.8 456,1133.2 458.8,1121.1 449.4,1112.9 461.8,1111.8"/>
<polygon points="482.1,1100.3 486.9,1111.8 499.4,1112.9 489.9,1121.1 492.8,1133.2 482.1,1126.8 471.4,1133.2 474.2,1121.1 464.7,1112.9 477.2,1111.8"/>
<polygon points="497.4,1098.8 502.3,1110.3 514.8,1111.4 505.3,1119.6 508.1,1131.7 497.4,1125.3 486.8,1131.7 489.6,1119.6 480.1,1111.4 492.6,1110.3"/>
<polygon points="512.8,1097.3 517.7,1108.8 530.1,1109.9 520.7,1118.1 523.5,1130.2 512.8,1123.8 502.1,1130.2 504.9,1118.1 495.5,1109.9 508,1108.8"/>
<polygon points="528.2,1091.4 533.1,1102.9 545.5,1104 536.1,1112.2 538.9,1124.3 528.2,1117.9 517.5,1124.3 520.3,1112.2 510.9,1104 523.4,1102.9"/>
<polygon points="543.6,1088.4 548.5,1099.9 560.9,1101 551.5,1109.2 554.3,1121.3 543.6,1114.9 532.9,1121.3 535.7,1109.2 526.3,1101 538.7,1099.9"/>
<polygon points="559,1084.2 563.9,1095.7 576.3,1096.8 566.9,1105 569.7,1117.1 559,1110.7 548.3,1117.1 551.1,1105 541.7,1096.8 554.1,1095.7"/>
<polygon points="574.4,1076.4 579.3,1087.9 591.7,1089 582.3,1097.2 585.1,1109.3 574.4,1102.9 563.7,1109.3 566.5,1097.2 557.1,1089 569.5,1087.9"/>
<polygon points="589.8,1072.5 594.7,1084 607.1,1085.1 597.7,1093.3 600.5,1105.4 589.8,1099 579.1,1105.4 581.9,1093.3 572.5,1085.1 584.9,1084"/>
<polygon points="605.2,1070.2 610.1,1081.7 622.5,1082.8 613.1,1091 615.9,1103.1 605.2,1096.7 594.5,1103.1 597.3,1091 587.9,1082.8 600.3,1081.7"/>
<polygon points="620.6,1067.1 625.5,1078.6 637.9,1079.7 628.5,1087.9 631.3,1100 620.6,1093.6 609.9,1100 612.7,1087.9 603.3,1079.7 615.7,1078.6"/>
<polygon points="636,1061.7 640.9,1073.2 653.3,1074.3 643.9,1082.5 646.7,1094.6 636,1088.2 625.3,1094.6 628.1,1082.5 618.7,1074.3 631.1,1073.2"/>
<polygon points="651.4,1057 656.2,1068.5 668.7,1069.6 659.3,1077.8 662.1,1089.9 651.4,1083.5 640.7,1089.9 643.5,1077.8 634.1,1069.6 646.5,1068.5"/>
<polygon points="666.8,1052.4 671.6,1063.9 684.1,1065 674.7,1073.2 677.5,1085.3 666.8,1078.9 656.1,1085.3 658.9,1073.2 649.5,1065 661.9,1063.9"/>
<polygon points="682.2,1047 687,1058.5 699.5,1059.6 690,1067.8 692.8,1079.9 682.2,1073.5 671.5,1079.9 674.3,1067.8 664.8,1059.6 677.3,1058.5"/>
<polygon points="697.5,1032.2 702.4,1043.7 714.9,1044.8 705.4,1053 708.2,1065.1 697.5,1058.7 686.8,1065.1 689.7,1053 680.2,1044.8 692.7,1043.7"/>
<polygon points="712.9,1015.2 717.8,1026.7 730.2,1027.8 720.8,1036 723.6,1048.1 712.9,1041.7 702.2,1048.1 705,1036 695.6,1027.8 708.1,1026.7"/>
<polygon points="728.3,1002.1 733.2,1013.6 745.6,1014.7 736.2,1022.9 739,1035 728.3,1028.6 717.6,1035 720.4,1022.9 711,1014.7 723.4,1013.6"/>
<polygon points="743.7,984.3 748.6,995.8 761,996.9 751.6,1005.1 754.4,1017.2 743.7,1010.8 733,1017.2 735.8,1005.1 726.4,996.9 738.8,995.8"/>
<polygon points="759.1,962.3 764,973.8 776.4,974.9 767,983.1 769.8,995.2 759.1,988.8 748.4,995.2 751.2,983.1 741.8,974.9 754.2,973.8"/>
<polygon points="774.5,940.4 779.4,951.9 791.8,953 782.4,961.2 785.2,973.3 774.5,966.9 763.8,973.3 766.6,961.2 757.2,953 769.6,951.9"/>
<polygon points="789.9,916.9 794.8,928.4 807.2,929.5 797.8,937.7 800.6,949.8 789.9,943.4 779.2,949.8 782,937.7 772.6,929.5 785,928.4"/>
<polygon points="805.3,899.1 810.2,910.6 822.6,911.7 813.2,919.9 816,932 805.3,925.6 794.6,932 797.4,919.9 788,911.7 800.4,910.6"/>
<polygon points="820.7,871.2 825.6,882.7 838,883.8 828.6,892 831.4,904.1 820.7,897.7 810,904.1 812.8,892 803.4,883.8 815.8,882.7"/>
<polygon points="836.1,847.1 841,858.6 853.4,859.7 844,867.9 846.8,880 836.1,873.6 825.4,880 828.2,867.9 818.8,859.7 831.2,858.6"/>
<polygon points="851.5,818.2 856.3,829.7 868.8,830.8 859.4,839 862.2,851.1 851.5,844.7 840.8,851.1 843.6,839 834.2,830.8 846.6,829.7"/>
<polygon points="866.9,799.5 871.7,811 884.2,812.1 874.7,820.3 877.6,832.4 866.9,826 856.2,832.4 859,820.3 849.5,812.1 862,811"/>
<polygon points="882.2,769.3 887.1,780.8 899.6,781.9 890.1,790.1 892.9,802.2 882.2,795.8 871.6,802.2 874.4,790.1 864.9,781.9 877.4,780.8"/>
<polygon points="897.6,738.1 902.5,749.6 914.9,750.7 905.5,758.9 908.3,771 897.6,764.6 886.9,771 889.7,758.9 880.3,750.7 892.8,749.6"/>
<polygon points="913,709.7 917.9,721.2 930.3,722.3 920.9,730.5 923.7,742.6 913,736.2 902.3,742.6 905.1,730.5 895.7,722.3 908.2,721.2"/>
<polygon points="928.4,684.1 933.3,695.6 945.7,696.7 936.3,704.9 939.1,717 928.4,710.6 917.7,717 920.5,704.9 911.1,696.7 923.5,695.6"/>
<polygon points="943.8,659.3 948.7,670.8 961.1,671.9 951.7,680.1 954.5,692.2 943.8,685.8 933.1,692.2 935.9,680.1 926.5,671.9 938.9,670.8"/>
<polygon points="959.2,622.7 964.1,634.2 976.5,635.3 967.1,643.5 969.9,655.6 959.2,649.2 948.5,655.6 951.3,643.5 941.9,635.3 954.3,634.2"/>
<polygon points="974.6,590.5 979.5,602 991.9,603.1 982.5,611.3 985.3,623.4 974.6,617 963.9,623.4 966.7,611.3 957.3,603.1 969.7,602"/>
<polygon points="990,555.3 994.9,566.8 1007.3,567.9 997.9,576.1 1000.7,588.2 990,581.8 979.3,588.2 982.1,576.1 972.7,567.9 985.1,566.8"/>
<polygon points="1005.4,522.3 1010.3,533.8 1022.7,534.9 1013.3,543.1 1016.1,555.2 1005.4,548.8 994.7,555.2 997.5,543.1 988.1,534.9 1000.5,533.8"/>
<polygon points="1020.8,497.8 1025.7,509.3 1038.1,510.4 1028.7,518.6 1031.5,530.7 1020.8,524.3 1010.1,530.7 1012.9,518.6 1003.5,510.4 1015.9,509.3"/>
<polygon points="1036.2,466.9 1041,478.4 1053.5,479.5 1044.1,487.7 1046.9,499.8 1036.2,493.4 1025.5,499.8 1028.3,487.7 1018.9,479.5 1031.3,478.4"/>
<polygon points="1051.6,437.5 1056.4,449 1068.9,450.1 1059.5,458.3 1062.3,470.4 1051.6,464 1040.9,470.4 1043.7,458.3 1034.3,450.1 1046.7,449"/>
<polygon points="1067,411.1 1071.8,422.6 1084.3,423.7 1074.8,431.9 1077.6,444 1067,437.6 1056.3,444 1059.1,431.9 1049.6,423.7 1062.1,422.6"/>
<polygon points="1082.3,388.6 1087.2,400.1 1099.7,401.2 1090.2,409.4 1093,421.5 1082.3,415.1 1071.6,421.5 1074.5,409.4 1065,401.2 1077.5,400.1"/>
<polygon points="1097.7,373.1 1102.6,384.6 1115,385.7 1105.6,393.9 1108.4,406 1097.7,399.6 1087,406 1089.8,393.9 1080.4,385.7 1092.9,384.6"/>
<polygon points="1113.1,358.4 1118,369.9 1130.4,371 1121,379.2 1123.8,391.3 1113.1,384.9 1102.4,391.3 1105.2,379.2 1095.8,371 1108.2,369.9"/>
<polygon points="1128.5,361.5 1133.4,373 1145.8,374.1 1136.4,382.3 1139.2,394.4 1128.5,388 1117.8,394.4 1120.6,382.3 1111.2,374.1 1123.6,373"/>
<polygon points="1143.9,368.5 1148.8,380 1161.2,381.1 1151.8,389.3 1154.6,401.4 1143.9,395 1133.2,401.4 1136,389.3 1126.6,381.1 1139,380"/>
<polygon points="1159.3,394 1164.2,405.5 1176.6,406.6 1167.2,414.8 1170,426.9 1159.3,420.5 1148.6,426.9 1151.4,414.8 1142,406.6 1154.4,405.5"/>
<polygon points="1174.7,419.6 1179.6,431.1 1192,432.2 1182.6,440.4 1185.4,452.5 1174.7,446.1 1164,452.5 1166.8,440.4 1157.4,432.2 1169.8,431.1"/>
<polygon points="1190.1,454.7 1195,466.2 1207.4,467.3 1198,475.5 1200.8,487.6 1190.1,481.2 1179.4,487.6 1182.2,475.5 1172.8,467.3 1185.2,466.2"/>
<polygon points="1205.5,528.8 1210.4,540.3 1222.8,541.4 1213.4,549.6 1216.2,561.7 1205.5,555.3 1194.8,561.7 1197.6,549.6 1188.2,541.4 1200.6,540.3"/>
<polygon points="1220.9,600.2 1225.8,611.7 1238.2,612.8 1228.8,621 1231.6,633.1 1220.9,626.7 1210.2,633.1 1213,621 1203.6,612.8 1216,611.7"/>
<polygon points="1236.3,653.7 1241.1,665.2 1253.6,666.3 1244.2,674.5 1247,686.6 1236.3,680.2 1225.6,686.6 1228.4,674.5 1219,666.3 1231.4,665.2"/>
<polygon points="1251.7,702.6 1256.5,714.1 1269,715.2 1259.5,723.4 1262.4,735.5 1251.7,729.1 1241,735.5 1243.8,723.4 1234.3,715.2 1246.8,714.1"/>
<polygon points="1267,787.1 1271.9,798.6 1284.4,799.7 1274.9,807.9 1277.7,820 1267,813.6 1256.4,820 1259.2,807.9 1249.7,799.7 1262.2,798.6"/>
<polygon points="1282.4,863 1287.3,874.5 1299.7,875.6 1290.3,883.8 1293.1,895.9 1282.4,889.5 1271.7,895.9 1274.5,883.8 1265.1,875.6 1277.6,874.5"/>
<polygon points="1297.8,901 1302.7,912.5 1315.1,913.6 1305.7,921.8 1308.5,933.9 1297.8,927.5 1287.1,933.9 1289.9,921.8 1280.5,913.6 1293,912.5"/>
<polygon points="1313.2,932 1318.1,943.5 1330.5,944.6 1321.1,952.8 1323.9,964.9 1313.2,958.5 1302.5,964.9 1305.3,952.8 1295.9,944.6 1308.3,943.5"/>
<polygon points="1328.6,967.2 1333.5,978.7 1345.9,979.8 1336.5,988 1339.3,1000.1 1328.6,993.7 1317.9,1000.1 1320.7,988 1311.3,979.8 1323.7,978.7"/>
<polygon points="1344,995.1 1348.9,1006.6 1361.3,1007.7 1351.9,1015.9 1354.7,1028 1344,1021.6 1333.3,1028 1336.1,1015.9 1326.7,1007.7 1339.1,1006.6"/>
<polygon points="1359.4,1033.9 1364.3,1045.4 1376.7,1046.5 1367.3,1054.7 1370.1,1066.8 1359.4,1060.4 1348.7,1066.8 1351.5,1054.7 1342.1,1046.5 1354.5,1045.4"/>
<polygon points="1374.8,1060.2 1379.7,1071.7 1392.1,1072.8 1382.7,1081 1385.5,1093.1 1374.8,1086.7 1364.1,1093.1 1366.9,1081 1357.5,1072.8 1369.9,1071.7"/>
<polygon points="1390.2,1075.3 1395.1,1086.8 1407.5,1087.9 1398.1,1096.1 1400.9,1108.2 1390.2,1101.8 1379.5,1108.2 1382.3,1096.1 1372.9,1087.9 1385.3,1086.8"/>
<polygon points="1405.6,1100.3 1410.5,1111.8 1422.9,1112.9 1413.5,1121.1 1416.3,1133.2 1405.6,1126.8 1394.9,1133.2 1397.7,1121.1 1388.3,1112.9 1400.7,1111.8"/>
<polygon points="1421,1100.3 1425.8,1111.8 1438.3,1112.9 1428.9,1121.1 1431.7,1133.2 1421,1126.8 1410.3,1133.2 1413.1,1121.1 1403.7,1112.9 1416.1,1111.8"/>
<polygon points="1436.4,1100.3 1441.2,1111.8 1453.7,1112.9 1444.3,1121.1 1447.1,1133.2 1436.4,1126.8 1425.7,1133.2 1428.5,1121.1 1419.1,1112.9 1431.5,1111.8"/>
<polygon points="1451.8,1100.3 1456.6,1111.8 1469.1,1112.9 1459.6,1121.1 1462.4,1133.2 1451.8,1126.8 1441.1,1133.2 1443.9,1121.1 1434.4,1112.9 1446.9,1111.8"/>
<polygon points="1467.1,1100.3 1472,1111.8 1484.5,1112.9 1475,1121.1 1477.8,1133.2 1467.1,1126.8 1456.4,1133.2 1459.3,1121.1 1449.8,1112.9 1462.3,1111.8"/>
<polygon points="1482.5,1100.3 1487.4,1111.8 1499.8,1112.9 1490.4,1121.1 1493.2,1133.2 1482.5,1126.8 1471.8,1133.2 1474.6,1121.1 1465.2,1112.9 1477.7,1111.8"/>
<polygon points="1497.9,1100.3 1502.8,1111.8 1515.2,1112.9 1505.8,1121.1 1508.6,1133.2 1497.9,1126.8 1487.2,1133.2 1490,1121.1 1480.6,1112.9 1493,1111.8"/>
<polygon points="1513.3,1100.3 1518.2,1111.8 1530.6,1112.9 1521.2,1121.1 1524,1133.2 1513.3,1126.8 1502.6,1133.2 1505.4,1121.1 1496,1112.9 1508.4,1111.8"/>
<polygon points="1528.7,1100.3 1533.6,1111.8 1546,1112.9 1536.6,1121.1 1539.4,1133.2 1528.7,1126.8 1518,1133.2 1520.8,1121.1 1511.4,1112.9 1523.8,1111.8"/>
<polygon points="1544.1,1100.3 1549,1111.8 1561.4,1112.9 1552,1121.1 1554.8,1133.2 1544.1,1126.8 1533.4,1133.2 1536.2,1121.1 1526.8,1112.9 1539.2,1111.8"/>
</g>
</g>
<line x1="196.5" y1="28" x2="196.5" y2="1198.7" stroke="#000" stroke-width="4.6"/>
<line x1="185" y1="1196.4" x2="1651" y2="1196.4" stroke="#000" stroke-width="4.6"/>
<line x1="173" y1="1118.50" x2="196.5" y2="1118.50" stroke="#000" stroke-width="4.6"/>
<text x="156.7" y="1136.80" class="tl" text-anchor="end">0</text>
<line x1="173" y1="963.05" x2="196.5" y2="963.05" stroke="#000" stroke-width="4.6"/>
<text x="156.7" y="981.35" class="tl" text-anchor="end">1</text>
<line x1="173" y1="807.60" x2="196.5" y2="807.60" stroke="#000" stroke-width="4.6"/>
<text x="156.7" y="825.90" class="tl" text-anchor="end">2</text>
<line x1="173" y1="652.15" x2="196.5" y2="652.15" stroke="#000" stroke-width="4.6"/>
<text x="156.7" y="670.45" class="tl" text-anchor="end">3</text>
<line x1="173" y1="496.70" x2="196.5" y2="496.70" stroke="#000" stroke-width="4.6"/>
<text x="156.7" y="515.00" class="tl" text-anchor="end">4</text>
<line x1="173" y1="341.25" x2="196.5" y2="341.25" stroke="#000" stroke-width="4.6"/>
<text x="156.7" y="359.55" class="tl" text-anchor="end">5</text>
<line x1="173" y1="185.80" x2="196.5" y2="185.80" stroke="#000" stroke-width="4.6"/>
<text x="156.7" y="204.10" class="tl" text-anchor="end">6</text>
<line x1="173" y1="30.35" x2="196.5" y2="30.35" stroke="#000" stroke-width="4.6"/>
<text x="156.7" y="48.65" class="tl" text-anchor="end">7</text>
<line x1="184.8" y1="1196.22" x2="196.5" y2="1196.22" stroke="#000" stroke-width="4.6"/>
<line x1="184.8" y1="1040.78" x2="196.5" y2="1040.78" stroke="#000" stroke-width="4.6"/>
<line x1="184.8" y1="885.33" x2="196.5" y2="885.33" stroke="#000" stroke-width="4.6"/>
<line x1="184.8" y1="729.88" x2="196.5" y2="729.88" stroke="#000" stroke-width="4.6"/>
<line x1="184.8" y1="574.43" x2="196.5" y2="574.43" stroke="#000" stroke-width="4.6"/>
<line x1="184.8" y1="418.98" x2="196.5" y2="418.98" stroke="#000" stroke-width="4.6"/>
<line x1="184.8" y1="263.53" x2="196.5" y2="263.53" stroke="#000" stroke-width="4.6"/>
<line x1="184.8" y1="108.08" x2="196.5" y2="108.08" stroke="#000" stroke-width="4.6"/>
<line x1="200.18" y1="1196.4" x2="200.18" y2="1206.8" stroke="#000" stroke-width="4.6"/>
<line x1="237.01" y1="1196.4" x2="237.01" y2="1206.8" stroke="#000" stroke-width="4.6"/>
<line x1="267.10" y1="1196.4" x2="267.10" y2="1206.8" stroke="#000" stroke-width="4.6"/>
<line x1="292.54" y1="1196.4" x2="292.54" y2="1206.8" stroke="#000" stroke-width="4.6"/>
<line x1="314.57" y1="1196.4" x2="314.57" y2="1206.8" stroke="#000" stroke-width="4.6"/>
<line x1="334.01" y1="1196.4" x2="334.01" y2="1206.8" stroke="#000" stroke-width="4.6"/>
<line x1="351.40" y1="1196.4" x2="351.40" y2="1218.9" stroke="#000" stroke-width="4.6"/>
<text x="351.40" y="1271.6" class="tl" text-anchor="middle">1</text>
<line x1="465.79" y1="1196.4" x2="465.79" y2="1206.8" stroke="#000" stroke-width="4.6"/>
<line x1="532.71" y1="1196.4" x2="532.71" y2="1206.8" stroke="#000" stroke-width="4.6"/>
<line x1="580.18" y1="1196.4" x2="580.18" y2="1206.8" stroke="#000" stroke-width="4.6"/>
<line x1="617.01" y1="1196.4" x2="617.01" y2="1206.8" stroke="#000" stroke-width="4.6"/>
<line x1="647.10" y1="1196.4" x2="647.10" y2="1206.8" stroke="#000" stroke-width="4.6"/>
<line x1="672.54" y1="1196.4" x2="672.54" y2="1206.8" stroke="#000" stroke-width="4.6"/>
<line x1="694.57" y1="1196.4" x2="694.57" y2="1206.8" stroke="#000" stroke-width="4.6"/>
<line x1="714.01" y1="1196.4" x2="714.01" y2="1206.8" stroke="#000" stroke-width="4.6"/>
<line x1="731.40" y1="1196.4" x2="731.40" y2="1218.9" stroke="#000" stroke-width="4.6"/>
<text x="731.40" y="1271.6" class="tl" text-anchor="middle">10</text>
<line x1="845.79" y1="1196.4" x2="845.79" y2="1206.8" stroke="#000" stroke-width="4.6"/>
<line x1="912.71" y1="1196.4" x2="912.71" y2="1206.8" stroke="#000" stroke-width="4.6"/>
<line x1="960.18" y1="1196.4" x2="960.18" y2="1206.8" stroke="#000" stroke-width="4.6"/>
<line x1="997.01" y1="1196.4" x2="997.01" y2="1206.8" stroke="#000" stroke-width="4.6"/>
<line x1="1027.10" y1="1196.4" x2="1027.10" y2="1206.8" stroke="#000" stroke-width="4.6"/>
<line x1="1052.54" y1="1196.4" x2="1052.54" y2="1206.8" stroke="#000" stroke-width="4.6"/>
<line x1="1074.57" y1="1196.4" x2="1074.57" y2="1206.8" stroke="#000" stroke-width="4.6"/>
<line x1="1094.01" y1="1196.4" x2="1094.01" y2="1206.8" stroke="#000" stroke-width="4.6"/>
<line x1="1111.40" y1="1196.4" x2="1111.40" y2="1218.9" stroke="#000" stroke-width="4.6"/>
<text x="1111.40" y="1271.6" class="tl" text-anchor="middle">100</text>
<line x1="1225.79" y1="1196.4" x2="1225.79" y2="1206.8" stroke="#000" stroke-width="4.6"/>
<line x1="1292.71" y1="1196.4" x2="1292.71" y2="1206.8" stroke="#000" stroke-width="4.6"/>
<line x1="1340.18" y1="1196.4" x2="1340.18" y2="1206.8" stroke="#000" stroke-width="4.6"/>
<line x1="1377.01" y1="1196.4" x2="1377.01" y2="1206.8" stroke="#000" stroke-width="4.6"/>
<line x1="1407.10" y1="1196.4" x2="1407.10" y2="1206.8" stroke="#000" stroke-width="4.6"/>
<line x1="1432.54" y1="1196.4" x2="1432.54" y2="1206.8" stroke="#000" stroke-width="4.6"/>
<line x1="1454.57" y1="1196.4" x2="1454.57" y2="1206.8" stroke="#000" stroke-width="4.6"/>
<line x1="1474.01" y1="1196.4" x2="1474.01" y2="1206.8" stroke="#000" stroke-width="4.6"/>
<line x1="1491.40" y1="1196.4" x2="1491.40" y2="1218.9" stroke="#000" stroke-width="4.6"/>
<text x="1491.40" y="1271.6" class="tl" text-anchor="middle">1000</text>
<line x1="1605.79" y1="1196.4" x2="1605.79" y2="1206.8" stroke="#000" stroke-width="4.6"/>
<text x="1049.5" y="1386" class="at" text-anchor="middle">Diameter (μm)</text>
<text transform="translate(62.7,416.8) rotate(-90)" class="at2" text-anchor="middle">Volume (%)</text>
<rect x="1332.9" y="168.05" width="278" height="392.85" fill="#fff" stroke="#000" stroke-width="1.8"/>
<circle cx="1408.6" cy="210.2" r="12.5" fill="#ff0000"/>
<rect x="1398.6" y="274.9" width="20.0" height="20.0" fill="none" stroke="#0000ff" stroke-width="2.6"/>
<polygon points="1408.6,341.9 1424.3,368.8 1392.9,368.8" fill="#ff00ff"/>
<polygon points="1408.6,422.1 1419.7,427.9 1419.7,440.7 1408.6,446.5 1397.5,440.7 1397.5,427.9" fill="none" stroke="#00ffff" stroke-width="2.8"/>
<polygon points="1408.6,491.4 1413.3,502.5 1425.3,503.6 1416.2,511.5 1418.9,523.2 1408.6,517 1398.3,523.2 1401,511.5 1391.9,503.6 1403.9,502.5" fill="#000" stroke="#000" stroke-width="1.0" stroke-linejoin="round"/>
<text x="1491" y="231.05" class="lg">0 h</text>
<text x="1491" y="305.41" class="lg">4 h</text>
<text x="1491" y="379.77" class="lg">8 h</text>
<text x="1491" y="454.13" class="lg">12 h</text>
<text x="1491" y="528.49" class="lg">16 h</text>
</svg></body></html>
